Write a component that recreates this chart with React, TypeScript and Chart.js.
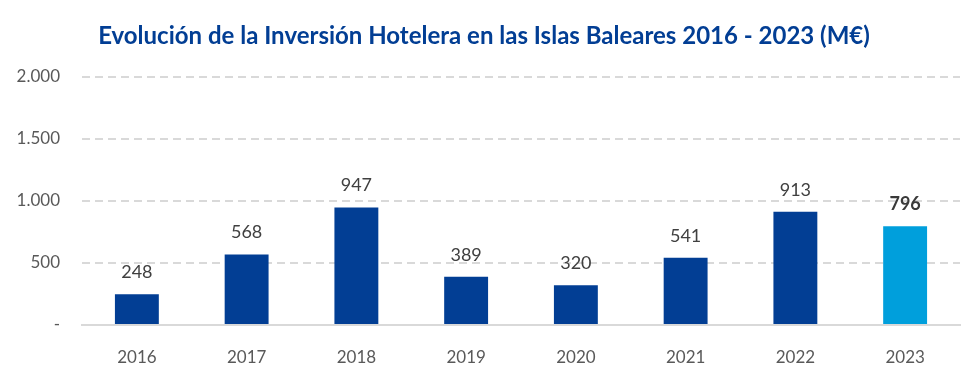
import React, { useEffect, useRef } from "react";
import { Chart, registerables } from "chart.js";

Chart.register(...registerables);

const years = ["2016", "2017", "2018", "2019", "2020", "2021", "2022", "2023"];
const investment = [248, 568, 947, 389, 320, 541, 913, 796];
const barColors = ["#023E94", "#023E94", "#023E94", "#023E94", "#023E94", "#023E94", "#023E94", "#009FDC"];
const boldLabel = [false, false, false, false, false, false, false, true];
const titleText = "Evolución de la Inversión Hotelera en las Islas Baleares 2016 - 2023 (M€)";

const FONT = "Lato, 'Open Sans', sans-serif";

const labelPlugin = {
  id: "barLabels",
  afterDatasetsDraw(chart: any) {
    const ctx = chart.ctx;
    const meta = chart.getDatasetMeta(0);
    ctx.save();
    ctx.textAlign = "center";
    ctx.textBaseline = "middle";
    meta.data.forEach((bar: any, i: number) => {
      ctx.font = `${boldLabel[i] ? "bold " : ""}18px ${FONT}`;
      ctx.fillStyle = boldLabel[i] ? "#3A3A3A" : "#404040";
      ctx.fillText(String(investment[i]), bar.x, bar.y - 22);
    });
    ctx.restore();
  },
};

export default function App() {
  const ref = useRef<HTMLCanvasElement>(null);
  useEffect(() => {
    if (!ref.current) return;
    const chart = new Chart(ref.current, {
      type: "bar",
      data: {
        labels: years,
        datasets: [
          {
            data: investment,
            backgroundColor: barColors,
            barPercentage: 0.4,
            categoryPercentage: 1,
          },
        ],
      },
      options: {
        animation: false,
        responsive: true,
        maintainAspectRatio: false,
        layout: { padding: { left: 0, right: 8, top: 0, bottom: 0 } },
        plugins: {
          legend: { display: false },
          tooltip: { enabled: false },
          title: {
            display: true,
            text: titleText,
            color: "#023E94",
            font: { family: FONT, size: 24, weight: "bold" },
            padding: { top: 14, bottom: 26 },
          },
        },
        scales: {
          x: {
            grid: { display: false },
            border: { display: true, color: "#D9D9D9", width: 2 },
            ticks: { color: "#595959", font: { family: FONT, size: 17 }, padding: 14 },
            afterFit(scale: any) {
              scale.height = 57;
            },
          },
          y: {
            min: 0,
            max: 2000,
            ticks: {
              stepSize: 500,
              color: "#595959",
              font: { family: FONT, size: 17 },
              padding: 22,
              callback: (v: any) => (v === 0 ? "-" : Number(v).toLocaleString("de-DE")),
            },
            grid: { color: "#D9D9D9", lineWidth: 2, drawTicks: false },
            border: { display: false, dash: [8, 5] },
            afterFit(scale: any) {
              scale.width = 74;
            },
          },
        },
      },
      plugins: [labelPlugin],
    });
    return () => chart.destroy();
  }, []);
  return (
    <div style={{ width: 960, height: 374, position: "relative" }}>
      <canvas ref={ref} />
    </div>
  );
}
